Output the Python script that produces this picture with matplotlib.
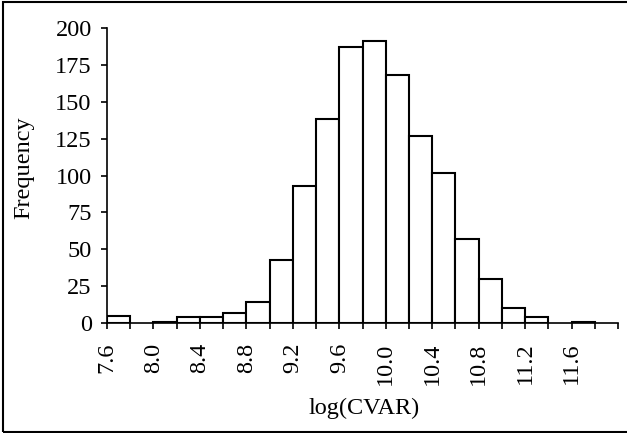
import matplotlib
matplotlib.use("Agg")
import matplotlib.pyplot as plt
from matplotlib.patches import Rectangle
import numpy as np

plt.rcParams['font.family'] = ['Liberation Serif', 'DejaVu Serif']

bin_starts = [7.6, 7.8, 8.0, 8.2, 8.4, 8.6, 8.8, 9.0, 9.2, 9.4, 9.6, 9.8,
              10.0, 10.2, 10.4, 10.6, 10.8, 11.0, 11.2, 11.4, 11.6, 11.8]
frequency = [5, 0, 1, 4, 4, 7, 14, 43, 93, 138, 187, 191,
             168, 127, 102, 57, 30, 10, 4, 0, 1, 0]
xtick_labels = ['7.6', '8.0', '8.4', '8.8', '9.2', '9.6', '10.0', '10.4',
                '10.8', '11.2', '11.6']
yticks = [0, 25, 50, 75, 100, 125, 150, 175, 200]
bin_width = 0.2

FS = 17.5

fig = plt.figure(figsize=(6.27, 4.33), dpi=100)
ax = fig.add_axes([107/627, 110/433, 511/627, 295/433])

lws = [1.5 if f > 0 else 0 for f in frequency]
ax.bar(bin_starts, frequency, width=bin_width, align='edge',
       facecolor='white', edgecolor='black', linewidth=lws, zorder=2)

ax.set_xlim(7.6, 12.0)
ax.set_ylim(0, 200)
ax.set_yticks(yticks)
ax.set_yticklabels([str(v) for v in yticks], fontsize=FS)
edges = np.round(np.arange(7.6, 12.0001, 0.2), 1)
ax.set_xticks(edges)
lbls = []
for e in edges:
    s = f"{e:.1f}"
    lbls.append(s if s in xtick_labels else '')
ax.set_xticklabels(lbls, rotation=90, fontsize=FS)
ax.tick_params(axis='both', direction='out', length=4, width=1.2, color='black')
ax.tick_params(axis='y', pad=7)
ax.tick_params(axis='x', pad=10)

for s in ['top', 'right']:
    ax.spines[s].set_visible(False)
for s in ['left', 'bottom']:
    ax.spines[s].set_linewidth(1.2)

fig.text(24/627, 1 - 168/433, 'Frequency', rotation=90, fontsize=FS,
         ha='center', va='center')
fig.text(364/627, 1 - 408/433, 'log(CVAR)', fontsize=FS,
         ha='center', va='center')

fig.patches.append(Rectangle((3/627, 1/433), 1.0, 430/433, transform=fig.transFigure,
                             fill=False, edgecolor='black', linewidth=1.5))

fig.savefig('out.png', dpi=100)
